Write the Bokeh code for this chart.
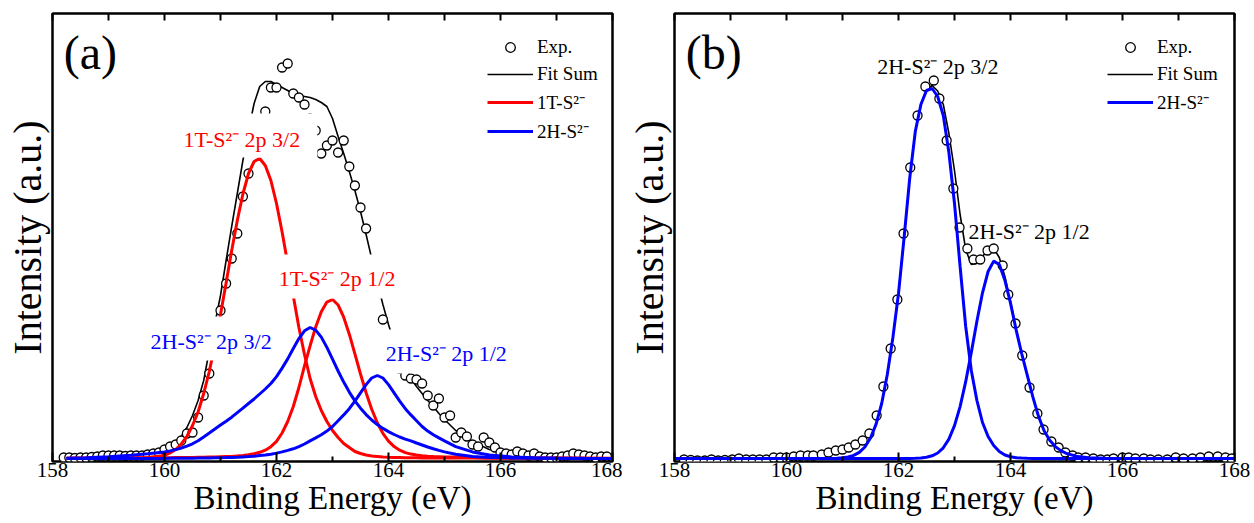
from bokeh.plotting import figure
from bokeh.models import (Range1d, FixedTicker, LinearAxis, Label, BoxAnnotation,
                          Legend, LegendItem, CustomJSTickFormatter)
from bokeh.layouts import row
from bokeh.embed import file_html
from bokeh.resources import INLINE

FONT = "Liberation Serif"
RED = "#ff0000"
BLUE = "#0000ff"

# ---------------- panel (a): mixed 1T / 2H phase, S 2p ----------------
# measured spectrum, 0.1 eV steps from 158.2 eV
energy_exp_a = [round(158.2 + 0.1 * i, 1) for i in range(98)]
counts_exp_a = [
    1, 1, 0.5, 1, 1, 1.5, 2, 3,
    3, 3, 3, 2.5, 3, 3, 3, 4, 5, 6,
    9, 12, 14, 18, 25, 26, 41, 63, 85, 116,
    148, 175, 200, 225, 262, 285, 310, 330, 347, 371,
    371, 391, 395, 365, 361, 354, 340, 328, 305, 313,
    318, 306, 318, 292, 273, 251, 230, 198, 172, 139,
    122, 104, 90, 83, 80, 79, 75, 63, 53, 60,
    41, 43, 21, 26, 22, 14, 12, 21, 16, 11,
    6, 5, 4, 7, 5, 3, 5, 2, 1, 1,
    1, 2, 3, 5, 4, 3, 2, 1, 2, 2,
]

# fitted components on a common energy grid
energy_fit_a = [
    158.25, 158.6, 159.0, 159.4, 159.7,
    160.0, 160.1, 160.2, 160.3, 160.4, 160.5, 160.6, 160.7, 160.8, 160.9,
    161.0, 161.1, 161.2, 161.3, 161.4, 161.5, 161.6, 161.7, 161.8, 161.9,
    162.0, 162.1, 162.2, 162.3, 162.4, 162.5, 162.6, 162.7, 162.8, 162.9,
    163.0, 163.1, 163.2, 163.3, 163.4, 163.5, 163.6, 163.7, 163.8, 163.9,
    164.0, 164.1, 164.2, 164.3, 164.4, 164.5, 164.6, 164.7, 164.8, 164.9,
    165.0, 165.2, 165.5, 165.8, 166.2, 166.6, 167.0, 167.5, 168.0,
]
fit_sum_a = [
    0, 0.5, 1, 2, 4,
    10, 13, 17, 22, 31, 43, 58, 78, 108, 135,
    163, 198, 232, 265, 298, 328, 355, 372, 377, 377,
    374, 371, 368, 365, 363, 362, 361, 359, 356, 352,
    340, 322, 305, 287, 268, 247, 224, 200, 176, 154,
    134, 116, 101, 89, 80, 72, 65, 58, 52, 45,
    39, 28, 17, 9, 4, 2, 1, 1, 1,
]
t1_2p32 = [
    0.3, 0.4, 0.5, 0.7, 1.0,
    3, 5.5, 9, 14.5, 22, 33, 46.5, 65, 87, 114,
    144, 175.5, 208, 238, 264.5, 285, 297, 300, 293, 278,
    255, 226.5, 195, 162.5, 131, 104, 80, 62, 48, 37,
    28, 21, 15, 11, 7, 5, 3.5, 2.5, 2, 1.5,
    1.2, 1.0, 0.9, 0.8, 0.7, 0.7, 0.6, 0.6, 0.5, 0.5,
    0.5, 0.4, 0.4, 0.3, 0.3, 0.2, 0.2, 0.2, 0.1,
]
t1_2p12 = [
    0.3, 0.35, 0.45, 0.55, 0.65,
    0.8, 0.8, 0.9, 0.95, 1.0, 1.1, 1.2, 1.3, 1.4, 1.5,
    1.7, 1.9, 2.1, 2.5, 2.9, 3.7, 4.8, 6.2, 8.3, 11.8,
    17.2, 25.5, 37, 52, 71, 92.7, 112.7, 131.6, 146.8, 156.4,
    159, 153.5, 141.3, 124.3, 104.7, 84.5, 65.8, 49.2, 35.7, 25.1,
    17.4, 11.9, 8.3, 5.9, 4.4, 3.4, 2.7, 2.3, 2.0, 1.8,
    1.6, 1.4, 1.1, 0.86, 0.67, 0.53, 0.43, 0.34, 0.28,
]
h2_2p32_a = [
    0.3, 0.8, 1.8, 3.3, 4.8,
    6.6, 7.6, 8.9, 10.5, 12.4, 14.7, 17.7, 21.6, 25.5, 29.5,
    33.4, 37.3, 41.3, 45.9, 50.4, 55, 59.5, 64.5, 69.5, 75,
    81.9, 90.4, 99.6, 110, 119.9, 127.7, 131, 128.4, 121.4, 111.1,
    99.4, 87.5, 76.4, 66.4, 57.6, 50.3, 43.9, 38.5, 33.9, 30.1,
    26.9, 24.0, 21.5, 19.4, 17.6, 15.5, 13.5, 11.5, 9.7, 8.1,
    6.6, 4.2, 2.1, 1.1, 0.6, 0.3, 0.15, 0.1, 0.05,
]
h2_2p12_a = [
    0, 0, 0, 0, 0.05,
    0.1, 0.15, 0.2, 0.25, 0.3, 0.35, 0.4, 0.5, 0.55, 0.65,
    0.75, 0.9, 1.1, 1.3, 1.6, 1.9, 2.3, 2.9, 3.5, 4.3,
    5.4, 6.6, 8.1, 9.7, 11.9, 14.5, 17.6, 20.6, 23.7, 27.4,
    32, 37.8, 43.6, 49.8, 57.3, 65.6, 73.9, 80.5, 83, 80.5,
    73.9, 65.6, 57.3, 49.8, 43.6, 37.8, 32, 27.4, 23.7, 20.6,
    17.6, 11.9, 6.6, 3.5, 1.6, 0.75, 0.35, 0.15, 0.05,
]

# ---------------- panel (b): 2H phase, S 2p ----------------
energy_exp_b = [
    158.17, 158.29, 158.41, 158.54, 158.66, 158.78, 158.9, 159.03, 159.15, 159.28,
    159.4, 159.52, 159.64, 159.77, 159.89, 160.0, 160.13, 160.25, 160.38, 160.48,
    160.63, 160.75, 160.88, 161.0, 161.11, 161.23, 161.36, 161.48, 161.61, 161.73,
    161.86, 161.98, 162.09, 162.21, 162.34, 162.48, 162.63, 162.73, 162.86, 162.98,
    163.09, 163.23, 163.34, 163.46, 163.59, 163.7, 163.86, 163.96, 164.09, 164.21,
    164.34, 164.48, 164.59, 164.73, 164.86, 164.98, 165.11, 165.21, 165.34, 165.48,
    165.61, 165.73, 165.84, 166.0, 166.11, 166.23, 166.38, 166.5, 166.64, 166.8,
    166.95, 167.09, 167.25, 167.39, 167.54, 167.7, 167.84, 167.95,
]
counts_exp_b = [
    -1, -1.5, -2, -2, -1, -2, -1.5, -1, 0, -1,
    -1, -1, -1, 1, 1, 1, 2, 3, 3, 3,
    4, 6, 8, 9, 11, 14, 18, 25, 43, 72,
    110, 159, 225, 291, 343, 372, 378, 360, 318, 270,
    231, 210, 199, 199, 208, 210, 193, 164, 135, 103,
    71, 45, 29, 17, 11, 6, 3, 1, 1, 0,
    -1, -1, 0, 1, 1, 0, 0, -1, -1, -1,
    1, 0, 0, 1, 2, 2, 1, 0,
]
energy_fit_b = [
    158.0, 158.5, 159.0, 159.5, 160.0, 160.4, 160.7, 160.9,
    161.0, 161.1, 161.2, 161.3, 161.4, 161.5, 161.6, 161.7, 161.8, 161.9,
    162.0, 162.1, 162.2, 162.3, 162.4, 162.5, 162.6, 162.7, 162.8, 162.9,
    163.0, 163.1, 163.2, 163.3, 163.4, 163.5, 163.6, 163.7, 163.8, 163.9,
    164.0, 164.1, 164.2, 164.3, 164.4, 164.5, 164.6, 164.7, 164.8, 164.9,
    165.0, 165.2, 165.4, 165.7, 166.0, 166.5, 167.0, 167.5, 168.0,
]
h2_2p32_b = [
    0, 0, 0, 0, 0, 0, 0.1, 0.3,
    0.7, 1.5, 3.1, 6.1, 11.5, 20.5, 34.4, 55, 84, 121,
    165, 221, 280, 327, 354, 368, 370, 362, 343, 306,
    255, 192, 132, 88, 58, 36, 22, 13, 7, 3.5,
    1.7, 0.8, 0.4, 0.2, 0.1, 0, 0, 0, 0, 0,
    0, 0, 0, 0, 0, 0, 0, 0, 0,
]
h2_2p12_b = [
    0, 0, 0, 0, 0, 0, 0, 0,
    0, 0, 0, 0, 0, 0, 0, 0, 0, 0,
    0, 0, 0.1, 0.2, 0.5, 1.2, 2.7, 5.5, 10.7, 19.4,
    32.9, 51.9, 76.8, 106.1, 137.2, 165.7, 187, 197.4, 194, 178.2,
    155.4, 128.7, 104.9, 83.2, 61.4, 42.2, 27.7, 18.2, 11.9, 7.9,
    5.0, 1.9, 0.8, 0.2, 0, 0, 0, 0, 0,
]
fit_sum_b = [
    0, 0, 0, 0, 0, 0, 0.1, 0.3,
    0.7, 1.5, 3.1, 6.1, 11.5, 20.5, 34.4, 55, 84, 121,
    165, 221, 280, 327, 354.5, 369, 373, 367.5, 354, 325,
    288, 244, 209, 194, 195, 202, 209, 210, 201, 182,
    157, 129.5, 105.3, 83.4, 61.5, 42.2, 27.7, 18.2, 11.9, 7.9,
    5.0, 1.9, 0.8, 0.2, 0, 0, 0, 0, 0,
]

x_ticks = [158, 160, 162, 164, 166, 168]
x_minor = [159, 161, 163, 165, 167]


def base_figure(width, border_left, border_right):
    p = figure(width=width, height=523, output_backend="svg", toolbar_location=None,
               x_range=Range1d(158, 168), y_range=Range1d(-3, 445),
               min_border_left=border_left, min_border_right=border_right,
               min_border_top=13, min_border_bottom=62,
               background_fill_color="white", border_fill_color="white")
    p.grid.visible = False
    p.outline_line_color = "black"
    p.outline_line_width = 2.5

    xa = p.xaxis[0]
    xa.ticker = FixedTicker(ticks=x_ticks, minor_ticks=x_minor)
    xa.axis_line_color = None
    xa.major_tick_in = 9
    xa.major_tick_out = 0
    xa.minor_tick_in = 5
    xa.minor_tick_out = 0
    xa.major_tick_line_width = 2
    xa.minor_tick_line_width = 2
    xa.major_label_standoff = 1
    xa.major_label_text_font = FONT
    xa.major_label_text_font_size = "21px"
    xa.major_label_text_color = "black"
    xa.axis_label = "Binding Energy (eV)"
    xa.axis_label_text_font = FONT
    xa.axis_label_text_font_size = "33px"
    xa.axis_label_text_font_style = "normal"
    xa.axis_label_text_color = "black"
    xa.axis_label_standoff = 0

    ya = p.yaxis[0]
    ya.ticker = FixedTicker(ticks=[])
    ya.axis_line_color = None
    ya.major_tick_line_color = None
    ya.minor_tick_line_color = None
    ya.major_label_standoff = 0
    ya.axis_label = "Intensity (a.u.)"
    ya.axis_label_text_font = FONT
    ya.axis_label_text_font_size = "40px"
    ya.axis_label_text_font_style = "normal"
    ya.axis_label_text_color = "black"
    ya.axis_label_standoff = 3

    # inward ticks along the top edge of the frame, no labels
    top = LinearAxis(ticker=FixedTicker(ticks=x_ticks, minor_ticks=x_minor),
                     formatter=CustomJSTickFormatter(code="return ''"),
                     axis_line_color=None, major_tick_in=7, major_tick_out=0,
                     minor_tick_in=7, minor_tick_out=0,
                     major_tick_line_width=2, minor_tick_line_width=2,
                     major_label_standoff=0)
    p.add_layout(top, "above")
    return p


def text_label(p, x, y, text, color, size="22px"):
    p.add_layout(Label(x=x, y=y, text=text, text_font=FONT, text_font_size=size,
                       text_color=color, text_align="left",
                       text_baseline="middle"))


def white_box(p, left, right, bottom, top):
    p.add_layout(BoxAnnotation(left=left, right=right, bottom=bottom, top=top,
                               fill_color="white", fill_alpha=1.0,
                               line_color=None))


# ---------------- draw panel (a) ----------------
pa = base_figure(622, 52, 10)
r_fit_a = pa.line(energy_fit_a, fit_sum_a, line_color="black", line_width=1.6)
r_exp_a = pa.scatter(energy_exp_a, counts_exp_a, marker="circle", size=9,
                     fill_color="white", line_color="black", line_width=1.3)
r_t1_a = pa.line(energy_fit_a, t1_2p32, line_color=RED, line_width=3)
pa.line(energy_fit_a, t1_2p12, line_color=RED, line_width=3)
r_h2_a = pa.line(energy_fit_a, h2_2p32_a, line_color=BLUE, line_width=3)
pa.line(energy_fit_a, h2_2p12_a, line_color=BLUE, line_width=3)

white_box(pa, 160.11, 162.73, 301, 345)
text_label(pa, 160.34, 319, "1T-S\u00b2\u207b 2p 3/2", RED)
white_box(pa, 161.82, 164.39, 160, 204)
text_label(pa, 162.04, 180, "1T-S\u00b2\u207b 2p 1/2", RED)
white_box(pa, 159.52, 162.14, 98, 142)
text_label(pa, 159.75, 117, "2H-S\u00b2\u207b 2p 3/2", BLUE)
white_box(pa, 163.71, 166.36, 85, 129)
text_label(pa, 163.95, 105, "2H-S\u00b2\u207b 2p 1/2", BLUE)
text_label(pa, 158.2, 406, "(a)", "black", size="48px")

leg_a = Legend(items=[
    LegendItem(label="Exp.", renderers=[r_exp_a]),
    LegendItem(label="Fit Sum", renderers=[r_fit_a]),
    LegendItem(label="1T-S\u00b2\u207b", renderers=[r_t1_a]),
    LegendItem(label="2H-S\u00b2\u207b", renderers=[r_h2_a]),
], location=(435, 317), padding=0, margin=0, spacing=3,
    glyph_width=46, glyph_height=24, label_height=24, label_standoff=4,
    label_text_font=FONT, label_text_font_size="19px", label_text_color="black",
    border_line_color=None, background_fill_alpha=0)
pa.add_layout(leg_a)

# ---------------- draw panel (b) ----------------
pb = base_figure(632, 52, 20)
r_fit_b = pb.line(energy_fit_b, fit_sum_b, line_color="black", line_width=1.6)
r_exp_b = pb.scatter(energy_exp_b, counts_exp_b, marker="circle", size=9,
                     fill_color="white", line_color="black", line_width=1.3)
r_h2_b = pb.line(energy_fit_b, h2_2p32_b, line_color=BLUE, line_width=3)
pb.line(energy_fit_b, h2_2p12_b, line_color=BLUE, line_width=3)

text_label(pb, 161.62, 392, "2H-S\u00b2\u207b 2p 3/2", "black")
text_label(pb, 163.25, 227, "2H-S\u00b2\u207b 2p 1/2", "black")
text_label(pb, 158.2, 406, "(b)", "black", size="48px")

leg_b = Legend(items=[
    LegendItem(label="Exp.", renderers=[r_exp_b]),
    LegendItem(label="Fit Sum", renderers=[r_fit_b]),
    LegendItem(label="2H-S\u00b2\u207b", renderers=[r_h2_b]),
], location=(433, 346), padding=0, margin=0, spacing=3,
    glyph_width=46, glyph_height=24, label_height=24, label_standoff=4,
    label_text_font=FONT, label_text_font_size="19px", label_text_color="black",
    border_line_color=None, background_fill_alpha=0)
pb.add_layout(leg_b)

layout = row(pa, pb)
open("out.html", "w").write(file_html(layout, INLINE))
